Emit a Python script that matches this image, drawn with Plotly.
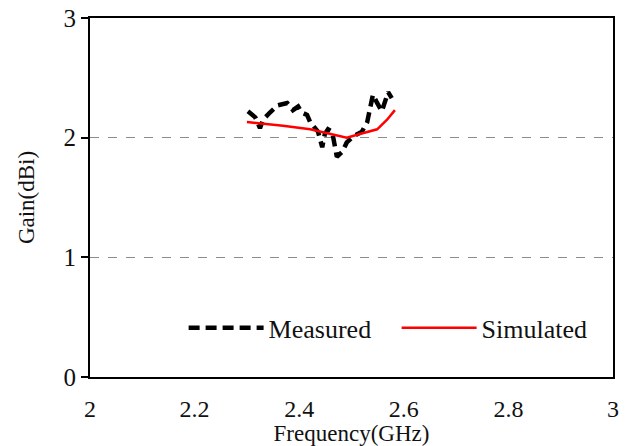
import plotly.graph_objects as go

meas_f = [2.302, 2.316, 2.325, 2.331, 2.344, 2.359, 2.377, 2.388, 2.398, 2.405, 2.415, 2.421,
          2.436, 2.444, 2.449, 2.455, 2.463, 2.472, 2.482, 2.491, 2.503, 2.520, 2.530, 2.535,
          2.541, 2.549, 2.558, 2.570, 2.577]
meas_g = [2.22, 2.17, 2.08, 2.15, 2.21, 2.27, 2.29, 2.23, 2.26, 2.21, 2.19, 2.13,
          2.05, 1.92, 2.03, 2.07, 2.05, 1.84, 1.88, 1.96, 2.01, 2.05, 2.13, 2.25,
          2.36, 2.29, 2.22, 2.38, 2.33]
sim_f = [2.300, 2.369, 2.421, 2.459, 2.491, 2.516, 2.549, 2.568, 2.583]
sim_g = [2.13, 2.10, 2.07, 2.03, 2.00, 2.03, 2.07, 2.15, 2.23]

x_ticks = [2, 2.2, 2.4, 2.6, 2.8, 3]
x_ticklabels = ["2", "2.2", "2.4", "2.6", "2.8", "3"]
y_ticks = [0, 1, 2, 3]

FONT = "Liberation Serif, Times New Roman, serif"

fig = go.Figure()
fig.add_trace(go.Scatter(x=meas_f, y=meas_g, mode="lines", name="Measured",
                         line=dict(color="black", width=4.5, dash="11px,6px")))
fig.add_trace(go.Scatter(x=sim_f, y=sim_g, mode="lines", name="Simulated",
                         line=dict(color="#ff0000", width=2.5)))

fig.update_layout(
    width=633, height=446,
    margin=dict(l=90, r=20, t=18, b=69),
    paper_bgcolor="white", plot_bgcolor="white",
    font=dict(family=FONT, size=22, color="#111"),
    showlegend=True,
    legend=dict(orientation="h", x=0.179, y=0.137, xanchor="left", yanchor="middle",
                bgcolor="rgba(0,0,0,0)", font=dict(family=FONT, size=26, color="#111"),
                itemwidth=75, entrywidth=123, entrywidthmode="pixels", tracegroupgap=0),
    xaxis=dict(range=[2, 3], tickvals=x_ticks, ticktext=x_ticklabels,
               showgrid=False, zeroline=False, showline=True, linecolor="black", linewidth=2,
               mirror=True, ticks="", ticklabelstandoff=9, tickfont=dict(size=24),
               automargin=False,
               title=dict(text="Frequency(GHz)", font=dict(size=23), standoff=4)),
    yaxis=dict(range=[0, 3], tickvals=y_ticks,
               showgrid=True, gridcolor="#8c8c8c", griddash="dash", gridwidth=1.3,
               zeroline=False, showline=True, linecolor="black", linewidth=2,
               mirror=True, ticks="outside", ticklen=7, tickwidth=2, tickcolor="black",
               ticklabelstandoff=0, tickfont=dict(size=25), automargin=False,
               title=dict(text="Gain(dBi)", font=dict(size=23), standoff=22)),
)

fig.write_html("out.html")
